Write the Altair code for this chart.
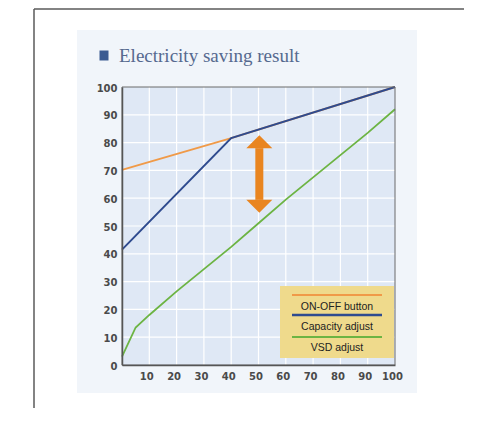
import altair as alt
import pandas as pd

# ---- data ----
series_names = ["ON-OFF button", "Capacity adjust", "VSD adjust"]
series_colors = ["#f09a48", "#2f4b8f", "#6cb443"]

onoff_x = [0, 40, 100]
onoff_y = [70.2, 81.6, 100]
capacity_x = [0, 40, 100]
capacity_y = [41.5, 81.6, 100]
vsd_x = [0, 5, 10, 20, 30, 40, 50, 60, 70, 80, 90, 100]
vsd_y = [3, 13.5, 18, 26.5, 34.5, 42.5, 51, 59.5, 67.5, 75.5, 83.5, 92]

grid_values = [10, 20, 30, 40, 50, 60, 70, 80, 90]
tick_values = [0, 10, 20, 30, 40, 50, 60, 70, 80, 90, 100]

arrow_x = [50.3]
arrow_top = [78.0]
arrow_bottom = [59.4]

title_text = "Electricity saving result"

W, H = 273, 278

xscale = alt.Scale(domain=[0, 100], nice=False, zero=False)
yscale = alt.Scale(domain=[0, 100], nice=False, zero=False)

xaxis = alt.Axis(values=tick_values, title="", grid=False, ticks=False,
                 domainColor="#555", domainWidth=1.5, labelFont="DejaVu Sans",
                 labelFontSize=10, labelFontWeight="bold", labelColor="#4a4a4a",
                 labelPadding=6, labelOffset=-3, zindex=1, labelOverlap=False,
                 labelFlush=False,
                 labelExpr="datum.value == 0 ? '' : datum.label")
yaxis = alt.Axis(values=tick_values, title="", grid=False, ticks=False,
                 domainColor="#555", domainWidth=1.5, labelFont="DejaVu Sans",
                 labelFontSize=10, labelFontWeight="bold", labelColor="#4a4a4a",
                 labelPadding=5, labelOffset=1, zindex=1, labelOverlap=False,
                 labelFlush=False)

one = pd.DataFrame({"a": [0]})

# outer frame (left and top edges) and panel
frame_left = alt.Chart(one).mark_rule(color="#5a5a5a", strokeWidth=1.5).encode(
    x=alt.value(-88), y=alt.value(-78), y2=alt.value(340))
frame_top = alt.Chart(one).mark_rule(color="#5a5a5a", strokeWidth=1.5).encode(
    x=alt.value(-88), x2=alt.value(342), y=alt.value(-78))
panel = alt.Chart(one).mark_rect(fill="#f1f5fa").encode(
    x=alt.value(-45), x2=alt.value(295), y=alt.value(-57), y2=alt.value(306))
plotbg = alt.Chart(one).mark_rect(fill="#dfe8f5").encode(
    x=alt.value(0), x2=alt.value(W), y=alt.value(0), y2=alt.value(H))

gx = alt.Chart(pd.DataFrame({"g": grid_values})).mark_rule(color="white", strokeWidth=1.2).encode(
    x=alt.X("g:Q", scale=xscale, axis=xaxis), y=alt.value(0), y2=alt.value(H))
gy = alt.Chart(pd.DataFrame({"h": grid_values})).mark_rule(color="white", strokeWidth=1.2).encode(
    y=alt.Y("h:Q", scale=yscale, axis=yaxis), x=alt.value(0), x2=alt.value(W))

def line_layer(xs, ys, color, width=2):
    df = pd.DataFrame({"x": xs, "y": ys})
    return alt.Chart(df).mark_line(color=color, strokeWidth=width).encode(
        x=alt.X("x:Q", scale=xscale, axis=xaxis),
        y=alt.Y("y:Q", scale=yscale, axis=yaxis),
    )

l_onoff = line_layer(onoff_x, onoff_y, series_colors[0])
l_cap = line_layer(capacity_x, capacity_y, series_colors[1])
l_vsd = line_layer(vsd_x, vsd_y, series_colors[2], 1.8)

arrow_df = pd.DataFrame({"ax": arrow_x, "at": arrow_top, "ab": arrow_bottom})
arrow_col = "#e98520"
shaft = alt.Chart(arrow_df).mark_rule(color=arrow_col, strokeWidth=8).encode(
    x=alt.X("ax:Q", scale=xscale, axis=xaxis), y=alt.Y("ab:Q", scale=yscale, axis=yaxis), y2="at:Q")
head_up = alt.Chart(arrow_df).mark_point(shape="M0,-1L1,0L-1,0Z", filled=True, size=676,
                                         color=arrow_col, opacity=1, strokeWidth=0).encode(
    x=alt.X("ax:Q", scale=xscale, axis=xaxis), y=alt.Y("at:Q", scale=yscale, axis=yaxis))
head_down = alt.Chart(arrow_df).mark_point(shape="M0,1L1,0L-1,0Z", filled=True, size=676,
                                           color=arrow_col, opacity=1, strokeWidth=0).encode(
    x=alt.X("ax:Q", scale=xscale, axis=xaxis), y=alt.Y("ab:Q", scale=yscale, axis=yaxis))

plotframe = alt.Chart(one).mark_rect(fillOpacity=0, stroke="#6a6a6a", strokeWidth=1).encode(
    x=alt.value(0), x2=alt.value(W), y=alt.value(0), y2=alt.value(H))

# custom legend
legend_layers = [alt.Chart(one).mark_rect(fill="#efda8c").encode(
    x=alt.value(158), x2=alt.value(272), y=alt.value(199), y2=alt.value(271))]
line_y = [208, 228, 250]
text_y = [220, 240, 261]
for name, col, ly, ty in zip(series_names, series_colors, line_y, text_y):
    legend_layers.append(alt.Chart(one).mark_rule(color=col, strokeWidth=2 if col != series_colors[1] else 2.5).encode(
        x=alt.value(170), x2=alt.value(260), y=alt.value(ly)))
    legend_layers.append(alt.Chart(one).mark_text(text=name, font="Liberation Sans", fontSize=10.5,
                                                  color="#222222", align="center", baseline="middle").encode(
        x=alt.value(215), y=alt.value(ty)))

# title
square = alt.Chart(one).mark_rect(fill="#3b5b92").encode(
    x=alt.value(-22.5), x2=alt.value(-13.5), y=alt.value(-36.5), y2=alt.value(-26.5))
title = alt.Chart(one).mark_text(text=title_text, font="Liberation Serif", fontSize=19,
                                 color="#56698f", align="left", baseline="alphabetic").encode(
    x=alt.value(-3), y=alt.value(-25))

chart = alt.layer(
    frame_left, frame_top, panel, plotbg, gx, gy, l_onoff, l_cap, l_vsd, shaft, head_up, head_down,
    plotframe, *legend_layers, square, title
).properties(
    width=W, height=H,
    autosize=alt.AutoSizeParams(type="none"),
    padding={"left": 114, "top": 79, "right": 74, "bottom": 43},
    background="white",
).configure_view(strokeWidth=0)

chart.save("out.html", embed_options={"renderer": "svg", "actions": False})
